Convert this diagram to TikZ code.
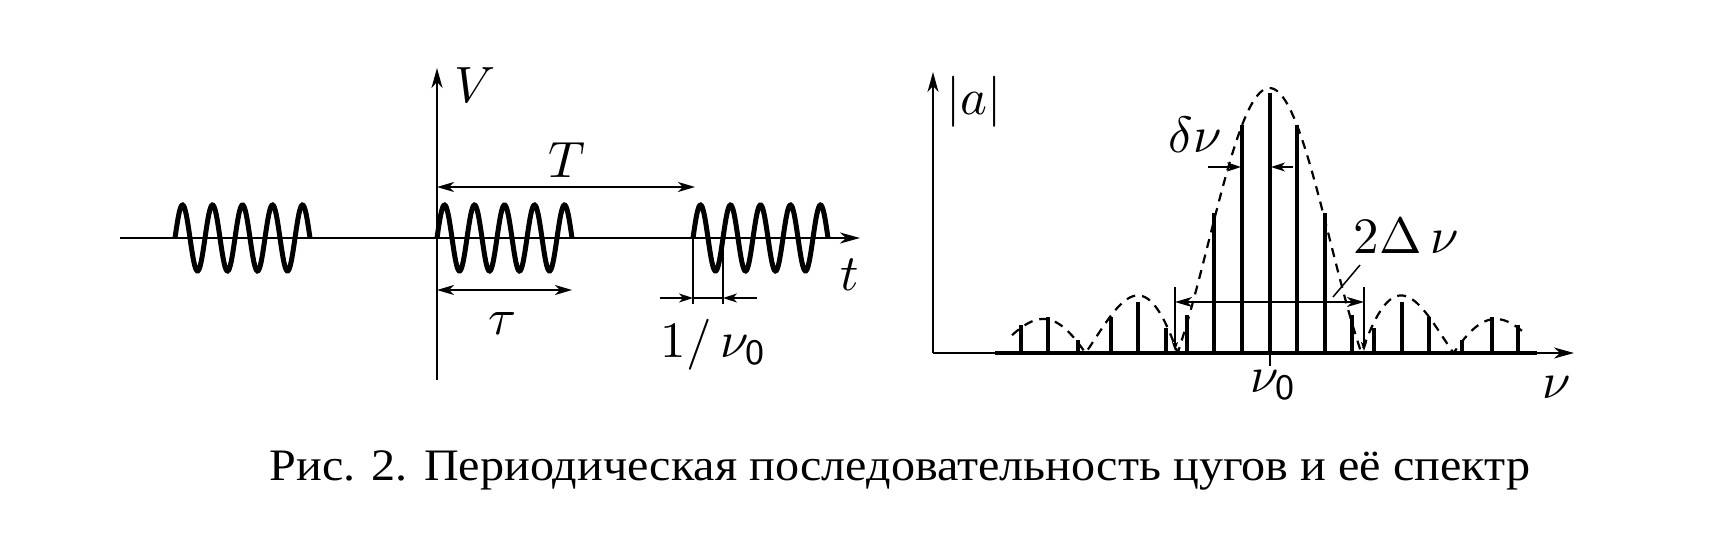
\documentclass[tikz,border=0pt]{standalone}
\usepackage{fontspec}
\newfontfamily\capfont{Liberation Serif}
\usetikzlibrary{arrows.meta}
\begin{document}
\begin{tikzpicture}[x=1pt,y=-1pt,
  axis/.style={line width=2pt},
  thinaxis/.style={line width=1.6pt},
  wave/.style={line width=5pt},
  dimline/.style={line width=1.5pt},
  specline/.style={line width=4pt},
  envelope/.style={line width=2.2pt,dash pattern=on 9pt off 7pt},
  bigtip/.style={-{Stealth[length=20pt,width=11pt,inset=6pt]}},
  dimtips/.style={{Stealth[length=17pt,width=10pt,inset=5pt]}-{Stealth[length=17pt,width=10pt,inset=5pt]}},
  dimtip/.style={-{Stealth[length=14pt,width=9pt,inset=4pt]}},
  smalltip/.style={-{Stealth[length=9pt,width=6pt,inset=2pt]}},
  lbl/.style={scale=5.1,inner sep=0pt,anchor=base},
  caption/.style={font=\capfont\fontsize{45}{52}\selectfont,inner sep=0pt,anchor=base,xscale=1.07}
]
\useasboundingbox (0,0) rectangle (1726,536);

% ---------- left: wave trains ----------
\coordinate (tstart) at (120,238);
\coordinate (tend) at (860,238);
\coordinate (vbot) at (437,380);
\coordinate (vtop) at (437,68);
\draw[axis,bigtip] (tstart) -- (tend);
\draw[axis,bigtip] (vbot) -- (vtop);

\foreach \xs in {175,437,693}
  \draw[wave] plot[domain=0:135,samples=160,smooth] ({\xs+\x},{238-33*sin(12*\x)});

% T dimension
\coordinate (Ta) at (437,187);
\coordinate (Tb) at (695,187);
\draw[dimline,dimtips] (Ta) -- (Tb);
% tau dimension
\coordinate (taua) at (437,290);
\coordinate (taub) at (572,290);
\draw[dimline,dimtips] (taua) -- (taub);
% 1/nu0 dimension
\coordinate (pa) at (693,238);
\coordinate (pb) at (723,238);
\coordinate (pa2) at (693,304);
\coordinate (pb2) at (723,304);
\coordinate (pam) at (693,298);
\coordinate (pbm) at (723,298);
\coordinate (pal) at (660,298);
\coordinate (pbr) at (757,298);
\draw[dimline] (pa) -- (pa2);
\draw[dimline] (pb) -- (pb2);
\draw[dimline] (pam) -- (pbm);
\draw[dimline,dimtip] (pal) -- (pam);
\draw[dimline,dimtip] (pbr) -- (pbm);

\node[lbl] (V) at (475,102) {$V$};
\node[lbl] (T) at (567,177) {$T$};
\node[lbl] (t) at (850,290) {$t$};
\node[lbl] (tau) at (503,334) {$\tau$};
\node[lbl] (period) at (714,357) {$1/\,\nu_{\mathsf{0}}$};

% ---------- right: spectrum ----------
\coordinate (o) at (933,353);
\coordinate (atop) at (933,72);
\coordinate (nuend) at (1574,353);
\coordinate (bl) at (995,353);
\coordinate (br) at (1537,353);
\draw[thinaxis,bigtip] (o) -- (atop);
\draw[thinaxis,bigtip] (o) -- (nuend);
\draw[specline] (bl) -- (br);

\foreach \dx/\tp in {0/92.7,27.5/125,-27.5/125,55.5/213,-55.5/213,82.5/315,-82.5/315,
  104/328,-104/328,132/301.7,-132/301.7,159/316.7,-159/316.7,192/340,-192/340,
  222/316.7,-222/316.7,248.5/325,-248.5/325}
  \draw[specline] ({1269.5+\dx},353) -- ({1269.5+\dx},\tp);

% nu0 tick
\coordinate (tk1) at (1270,353);
\coordinate (tk2) at (1270,366);
\draw[dimline] (tk1) -- (tk2);

% envelope
\draw[envelope] plot[domain=1012:1527,samples=240,smooth]
  (\x,{353-265*abs(sin(180*((\x-1269.5)/92+0.0001)))/(3.14159*abs((\x-1269.5)/92+0.0001))});

% delta nu arrows
\coordinate (dl1) at (1208,167);
\coordinate (dl2) at (1241,167);
\coordinate (dr1) at (1293,167);
\coordinate (dr2) at (1271,167);
\draw[dimline,dimtip] (dl1) -- (dl2);
\draw[dimline,dimtip] (dr1) -- (dr2);

% 2 Delta nu
\coordinate (wl) at (1175,302);
\coordinate (wr) at (1364,302);
\draw[dimline,dimtips] (wl) -- (wr);
\coordinate (wlt) at (1175,287);
\coordinate (wlb) at (1175,351);
\coordinate (wrt) at (1364,287);
\coordinate (wrb) at (1364,351);
\draw[dimline,smalltip] (wlt) -- (wlb);
\draw[dimline,smalltip] (wrt) -- (wrb);
\coordinate (ld1) at (1333,297);
\coordinate (ld2) at (1360,265);
\draw[dimline] (ld1) -- (ld2);

\node[lbl] (amp) at (974,114) {$|a|$};
\node[lbl] (dnu) at (1195,152) {$\delta\nu$};
\node[lbl] (wid) at (1406,253) {$2\Delta\,\nu$};
\node[lbl] (nu) at (1557,398) {$\nu$};
\node[lbl] (nu0) at (1274,392) {$\nu_{\mathsf{0}}$};

% caption
\node[caption] (cap) at (900,480) {Рис. 2. Периодическая последовательность цугов и её спектр};
\end{tikzpicture}
\end{document}
